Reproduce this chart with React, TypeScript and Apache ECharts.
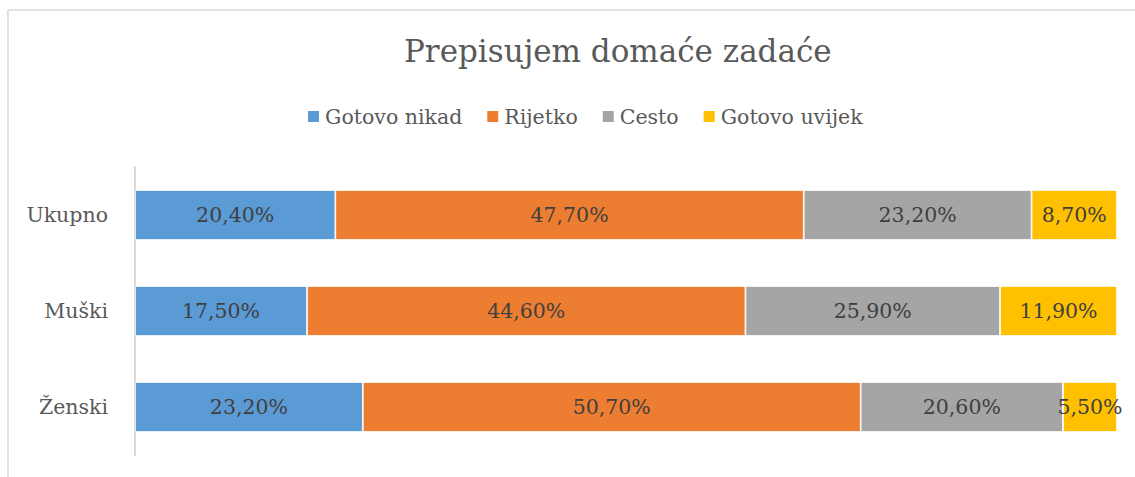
import React, { useEffect, useRef } from "react";
import * as echarts from "echarts";

const categories = ["Ženski", "Muški", "Ukupno"];
const seriesNames = ["Gotovo nikad", "Rijetko", "Cesto", "Gotovo uvijek"];
const gotovoNikad = [23.2, 17.5, 20.4];
const rijetko = [50.7, 44.6, 47.7];
const cesto = [20.6, 25.9, 23.2];
const gotovoUvijek = [5.5, 11.9, 8.7];
const colors = ["#5b9bd5", "#ed7d31", "#a5a5a5", "#ffc000"];

const FONT = "DejaVu Serif";

export default function App() {
  const ref = useRef<HTMLDivElement>(null);
  useEffect(() => {
    const chart = echarts.init(ref.current!, null, { renderer: "svg" });
    const values = [gotovoNikad, rijetko, cesto, gotovoUvijek];
    const totals = categories.map((_, c) => values.reduce((s, v) => s + v[c], 0));
    chart.setOption({
      animation: false,
      title: {
        text: "Prepisujem domaće zadaće",
        left: 399,
        top: 30,
        textStyle: { fontFamily: FONT, fontSize: 31, fontWeight: "normal", color: "#595959" },
      },
      legend: {
        top: 101,
        left: 301,
        itemWidth: 13,
        itemHeight: 13,
        itemGap: 23,
        icon: "rect",
        textStyle: { fontFamily: FONT, fontSize: 20.5, color: "#595959" },
        data: seriesNames,
      },
      grid: { left: 135, right: 18, top: 167, bottom: 22, containLabel: false },
      xAxis: {
        type: "value",
        min: 0,
        max: 100,
        show: false,
      },
      yAxis: {
        type: "category",
        data: categories,
        axisLine: { show: true, lineStyle: { color: "#d9d9d9", width: 2 } },
        axisTick: { show: false },
        axisLabel: { fontFamily: FONT, fontSize: 20.5, color: "#595959", margin: 27 },
      },
      graphic: [
        { type: "line", shape: { x1: 8, y1: 10, x2: 1135, y2: 10 }, style: { stroke: "#d9d9d9", lineWidth: 1.5 } },
        { type: "line", shape: { x1: 8, y1: 10, x2: 8, y2: 477 }, style: { stroke: "#d9d9d9", lineWidth: 1.5 } },
      ],
      series: seriesNames.map((name, i) => ({
        name,
        type: "bar",
        stack: "total",
        barWidth: 50,
        data: values[i].map((v, c) => ({ value: (v / totals[c]) * 100, raw: v })),
        itemStyle: { color: colors[i], borderColor: "#ffffff", borderWidth: 0.8 },
        label: {
          show: true,
          position: "inside",
          formatter: (p: any) => p.data.raw.toFixed(2).replace(".", ",") + "%",
          fontFamily: FONT,
          fontSize: 20.5,
          color: "#404040",
        },
      })),
    });
    return () => chart.dispose();
  }, []);
  return <div ref={ref} style={{ position: "absolute", left: 0, top: 0, width: 1135, height: 477 }} />;
}
